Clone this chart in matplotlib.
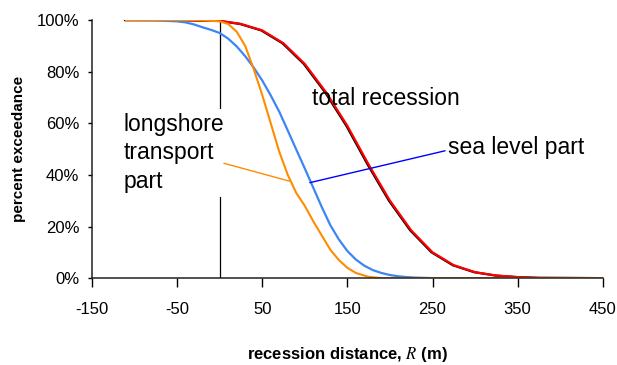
"""
Recession distance exceedance curves
"""

import matplotlib
matplotlib.use('Agg')
import matplotlib.pyplot as plt
import matplotlib.transforms as mtransforms

plt.rcParams['font.family'] = ['Liberation Sans', 'DejaVu Sans']
plt.rcParams['mathtext.fontset'] = 'stix'
plt.rcParams['axes.unicode_minus'] = False

# total recession
total_x = [-110, -50, 0, 25, 50, 75, 100, 125, 150, 175, 200, 225, 250, 275, 300, 325, 350, 375, 450]
total_y = [100, 100, 99.7, 98.5, 96, 91, 83, 72, 59, 44, 30, 18.5, 10, 5, 2.3, 1, 0.4, 0.1, 0]

# sea level part
sea_x = [-110, -75, -50, -40, -30, -20, -10, 0, 10, 20, 30, 40, 50, 60, 70, 80, 90, 100,
         110, 120, 130, 140, 150, 160, 170, 180, 190, 200, 210, 220, 230, 250, 450]
sea_y = [100, 99.9, 99.5, 99.1, 98.3, 97.2, 96.2, 95, 92.8, 89.8, 86, 81.6, 76.6, 70.8, 64.5, 57.2, 49.8, 42.5,
         35, 27.5, 20.5, 15, 10.5, 7.2, 4.8, 3.1, 2, 1.2, 0.7, 0.4, 0.2, 0, 0]

# longshore transport part
long_x = [-110, -25, 0, 10, 20, 30, 40, 50, 60, 70, 80, 90, 100, 110, 120, 130, 140, 150, 160, 175, 190, 450]
long_y = [100, 100, 99.5, 98.5, 95.5, 90, 81, 71, 60, 49, 40, 33, 28, 22, 16.5, 11, 7, 4, 2, 0.5, 0, 0]

x_ticks = [-150, -50, 50, 150, 250, 350, 450]
y_ticks = [0, 20, 40, 60, 80, 100]

fig = plt.figure(figsize=(6.17, 3.65), dpi=100)
ax = fig.add_axes([0.149, 0.238, 0.828, 0.707])

# 기준선 (x = 0)
ax.plot([0, 0], [0, 100], color='black', lw=0.9, zorder=1)

# 곡선
shift = mtransforms.offset_copy(ax.transData, fig=fig, x=-1, y=0, units='dots')
ax.plot(total_x, total_y, color='black', lw=1.6, zorder=2, transform=shift)
ax.plot(total_x, total_y, color='#ff0000', lw=1.6, zorder=2.1)
ax.plot(sea_x, sea_y, color='#3d85f5', lw=1.6, zorder=2.2)
ax.plot(long_x, long_y, color='#ff8c00', lw=1.5, zorder=2.3)

# 텍스트 라벨
ax.text(108, 69.5, 'total recession', fontsize=16.5, ha='left', va='center', zorder=5)
ax.annotate('sea level part', xy=(106, 37), xytext=(268, 50.5),
            fontsize=16.5, ha='left', va='center', zorder=5,
            arrowprops=dict(arrowstyle='-', color='#0000ff', lw=1,
                            shrinkA=0, shrinkB=0, relpos=(0, 0.4)))
ax.text(-113, 48.5, 'longshore\ntransport\npart', fontsize=16.5, ha='left', va='center',
        linespacing=1.28, zorder=3,
        bbox=dict(facecolor='white', edgecolor='none', pad=3))
ax.annotate('', xy=(83, 37.5), xytext=(5, 44.5), zorder=4,
            arrowprops=dict(arrowstyle='-', color='#ff8c00', lw=1,
                            shrinkA=0, shrinkB=0))

# 축 설정
ax.set_xlim(-150, 450)
ax.set_ylim(0, 100)
ax.set_xticks(x_ticks)
ax.set_yticks(y_ticks)
ax.set_yticklabels([f'{v}%' for v in y_ticks])
ax.tick_params(axis='x', length=6.5, width=1, pad=11, labelsize=12, direction='out')
ax.tick_params(axis='y', length=3, width=1, pad=6, labelsize=12, direction='out')
for side in ['top', 'right']:
    ax.spines[side].set_visible(False)
for side in ['left', 'bottom']:
    ax.spines[side].set_linewidth(1.1)
    ax.spines[side].set_color('#222222')

ax.set_ylabel('percent exceedance', fontsize=11, fontweight='bold', labelpad=8)
ax.set_xlabel('recession distance, $R$ (m)', fontsize=12, fontweight='bold', labelpad=20)

plt.savefig('out.png', dpi=100, facecolor='white')
plt.close(fig)
